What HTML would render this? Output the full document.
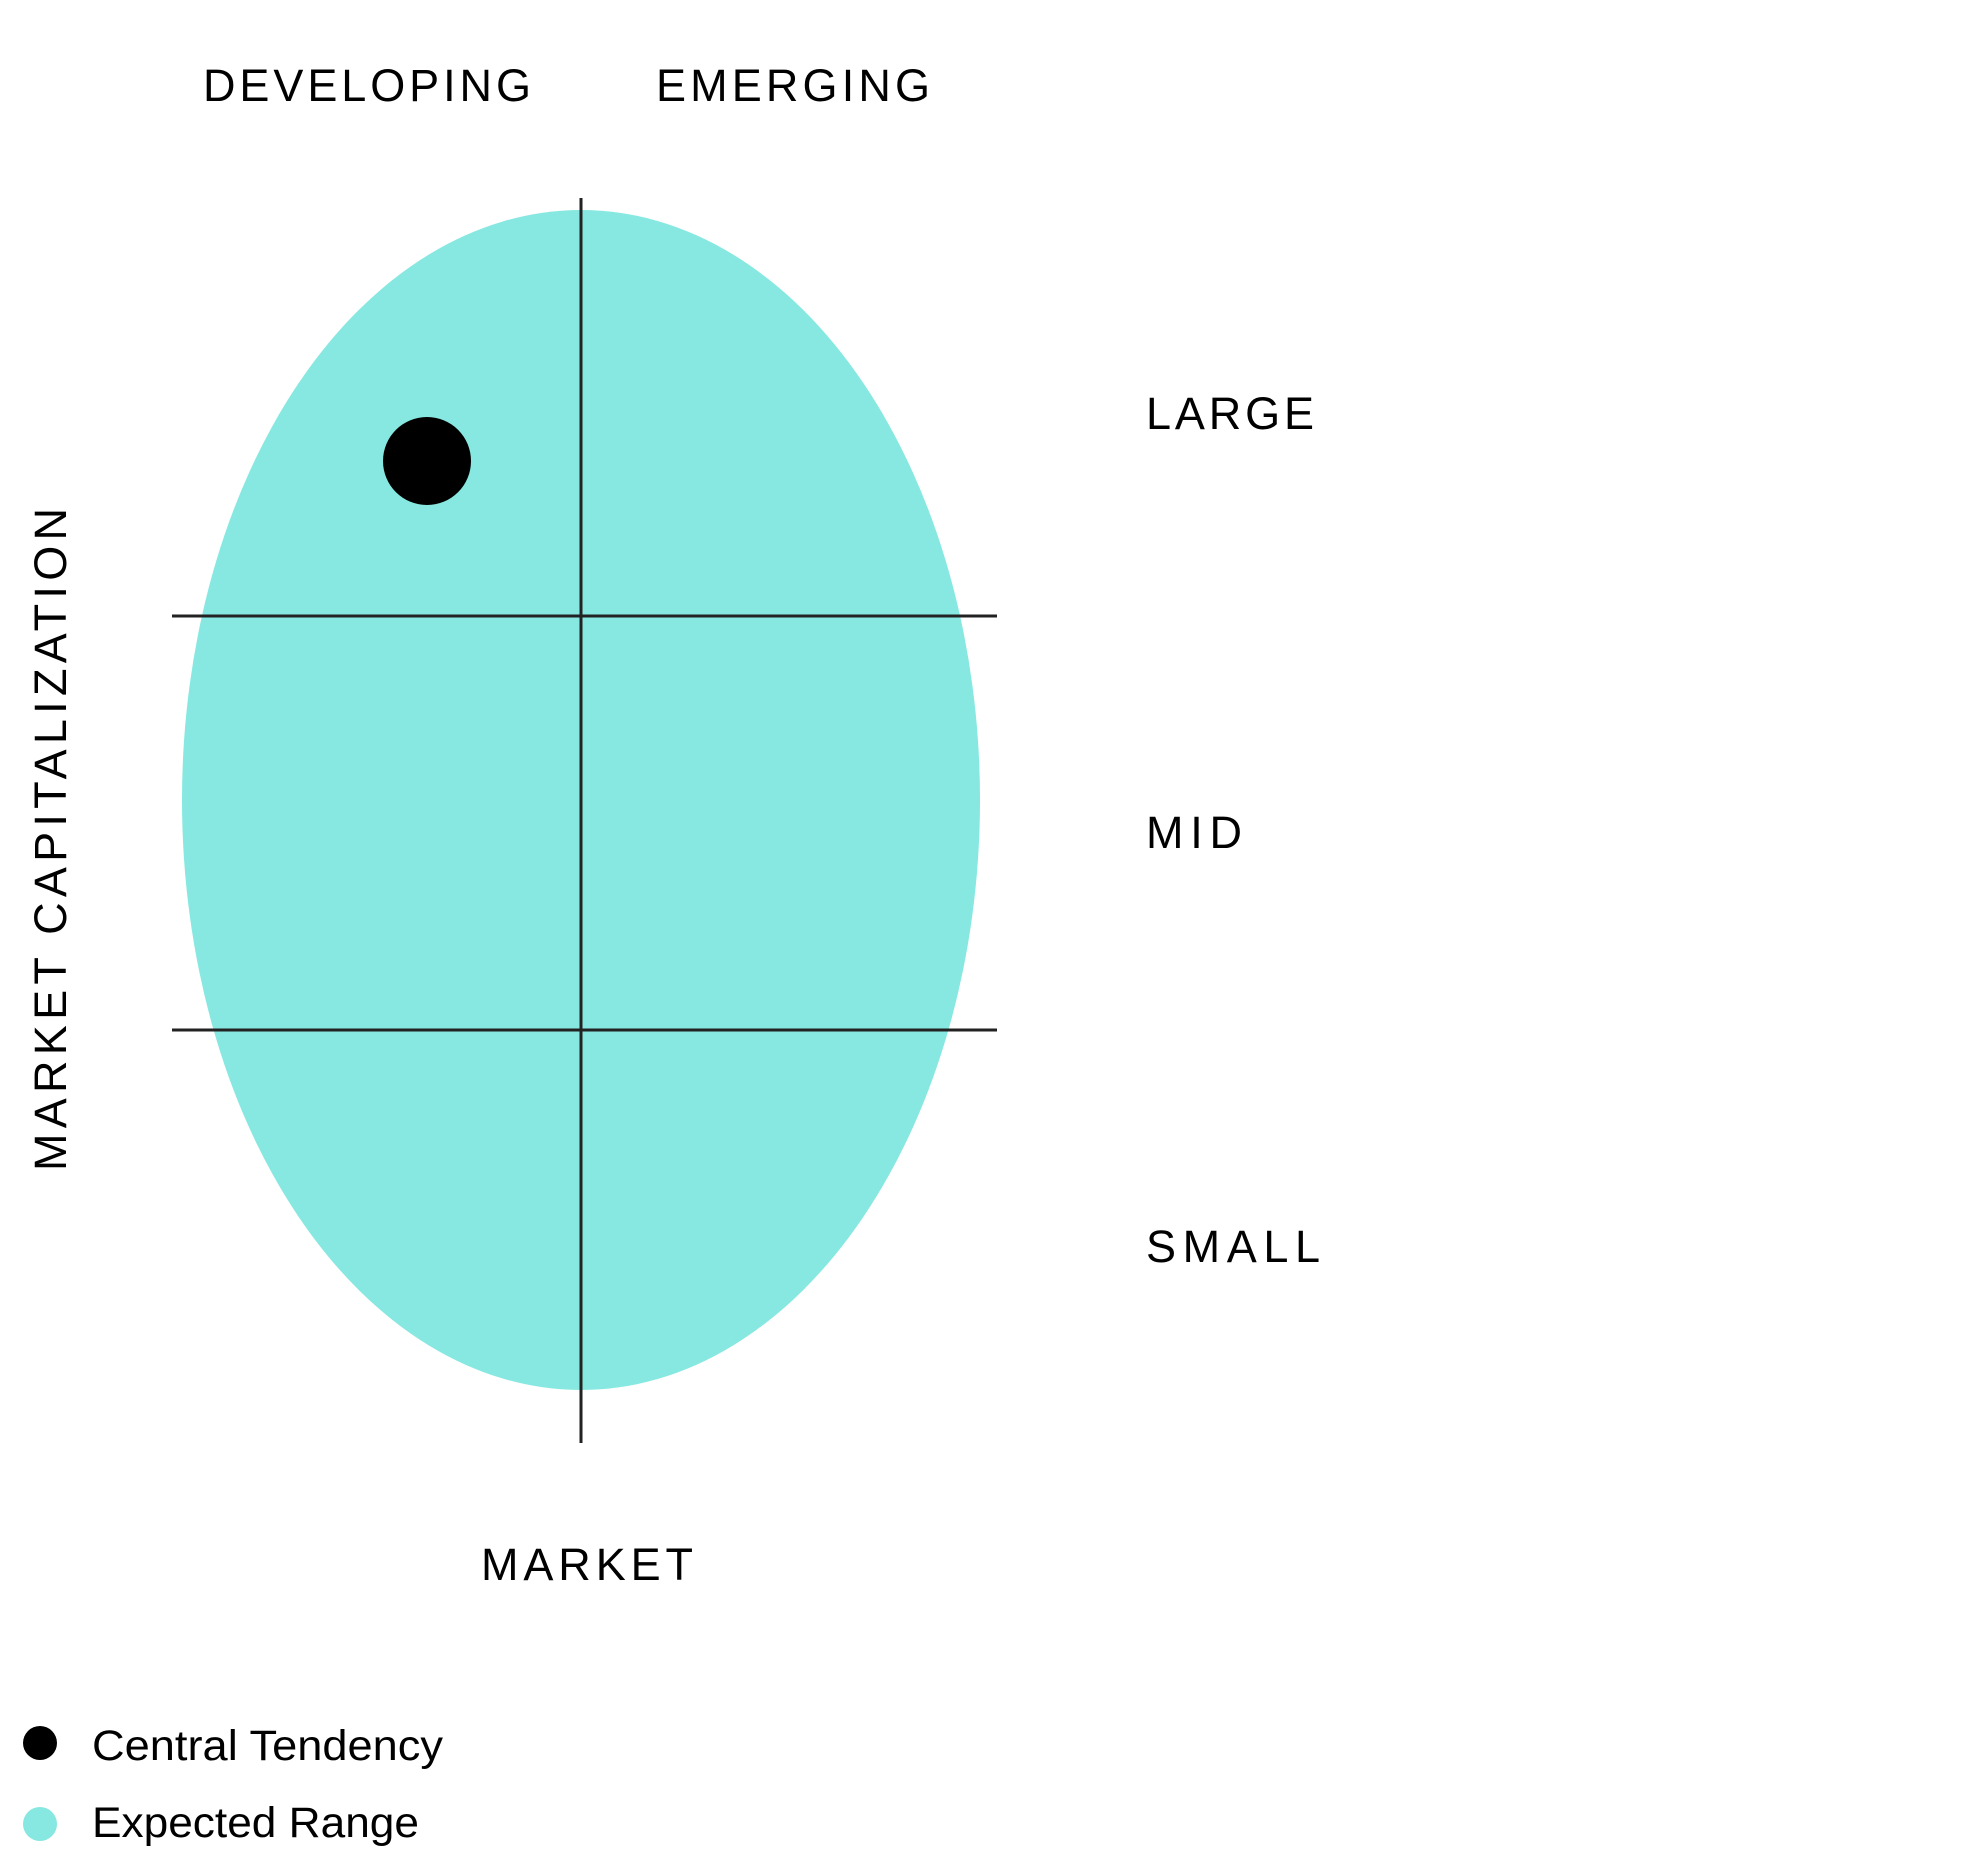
<!DOCTYPE html>
<html><head><meta charset="utf-8"><style>html,body{margin:0;padding:0;background:#fff}svg{display:block}</style></head>
<body>
<svg width="1968" height="1866" viewBox="0 0 1968 1866" xmlns="http://www.w3.org/2000/svg" font-family="Liberation Sans, sans-serif">
<rect width="1968" height="1866" fill="#fff"/>
<ellipse cx="581" cy="800" rx="399" ry="590" fill="#87e8e1"/>
<line x1="581" y1="198" x2="581" y2="1443" stroke="#222" stroke-width="3"/>
<line x1="172" y1="616" x2="997" y2="616" stroke="#222" stroke-width="3"/>
<line x1="172" y1="1030" x2="997" y2="1030" stroke="#222" stroke-width="3"/>
<circle cx="427" cy="461" r="44" fill="#000"/>
<g font-size="45" fill="#000">
<text x="203" y="101" textLength="328" lengthAdjust="spacing">DEVELOPING</text>
<text x="656" y="101" textLength="274" lengthAdjust="spacing">EMERGING</text>
<text x="1146" y="429" textLength="168" lengthAdjust="spacing">LARGE</text>
<text x="1146" y="848" textLength="96" lengthAdjust="spacing">MID</text>
<text x="1146" y="1262" textLength="174" lengthAdjust="spacing">SMALL</text>
<text x="481" y="1580" textLength="212" lengthAdjust="spacing">MARKET</text>
<text transform="translate(66,1171) rotate(-90)" x="0" y="0" textLength="663" lengthAdjust="spacing">MARKET CAPITALIZATION</text>
</g>
<circle cx="40" cy="1743" r="17" fill="#000"/>
<circle cx="40" cy="1824" r="17" fill="#87e8e1"/>
<g font-size="43" fill="#000">
<text x="92" y="1760" textLength="351" lengthAdjust="spacingAndGlyphs">Central Tendency</text>
<text x="92" y="1837" textLength="327" lengthAdjust="spacingAndGlyphs">Expected Range</text>
</g>
</svg>
</body></html>
